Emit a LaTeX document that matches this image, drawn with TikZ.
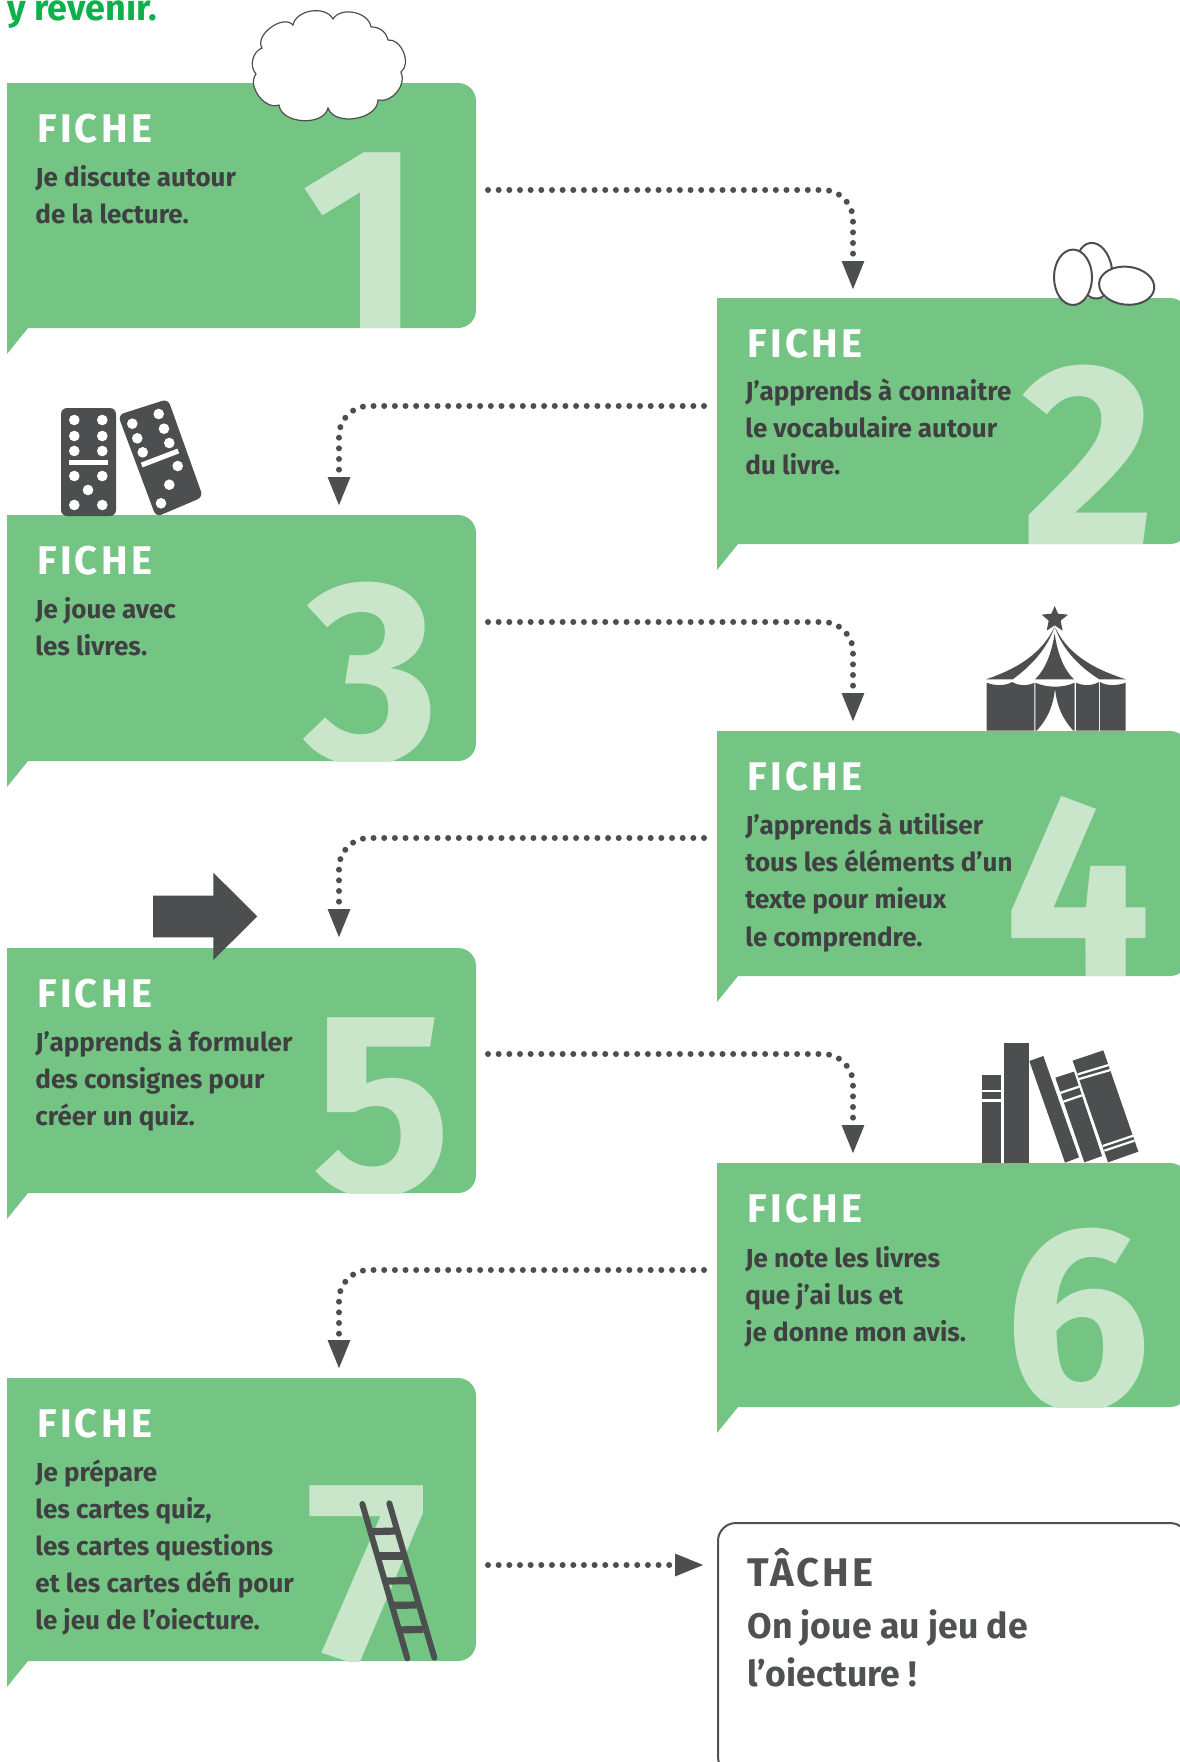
\documentclass[tikz,border=0pt]{standalone}
\usepackage{fontspec}
\setmainfont{Fira Sans}
\usetikzlibrary{arrows.meta}
\definecolor{boxgreen}{HTML}{74C583}
\definecolor{digitgreen}{HTML}{C9E6CB}
\definecolor{icondark}{HTML}{4D4E50}
\definecolor{textdark}{HTML}{404042}
\definecolor{taskdark}{HTML}{505153}
\definecolor{headgreen}{HTML}{0DB14B}
\newcommand\rowsoftext[1]{\vtop{\baselineskip=18.6pt\halign{##\hfil\cr #1\crcr}}}
\tikzset{
  ficheword/.style={anchor=base west,inner sep=0pt,text=white,font=\fontsize{20}{20}\selectfont\bfseries\addfontfeature{LetterSpace=8}},
  bodytext/.style={anchor=base west,inner sep=0pt,text=textdark,font=\fontsize{13}{18.6}\selectfont\bfseries},
  bigdigit/.style={anchor=base,inner sep=0pt,text=digitgreen,font=\fontsize{130}{130}\selectfont\bfseries},
  conn/.style={draw=icondark,line width=3pt,line cap=round,dash pattern=on 0pt off 5.33pt,rounded corners=15pt,
     -{Triangle[length=14.5pt,width=10.5pt,fill=icondark]}},
  icon/.style={fill=icondark,draw=none},
  eggshape/.style={draw=icondark,fill=white,line width=1pt},
  pip/.style={fill=white,draw=none},
  zoomed/.style={x=0.16667pt,y=-0.16667pt}
}
% name, left, right, top, bottom
\newcommand\ficheshape[5]{%
  \fill[boxgreen] (#2,#4) -- ({#3-18},#4) .. controls ({#3-8},#4) and (#3,{#4+8}) .. (#3,{#4+18})
    -- (#3,{#5-18}) .. controls (#3,{#5-8}) and ({#3-8},#5) .. ({#3-18},#5)
    -- ({#2+21},#5) -- (#2,{#5+26}) -- cycle;
  \node[ficheword] (#1w) at ({#2+30},{#4+59.5}) {FICHE};
}
\newcommand\bigdig[5]{%
  \begin{scope}
    \clip (0,#4) rectangle (1179,#5);
    \node[bigdigit] (#1) at (#3,#5) {#2};
  \end{scope}
}
\begin{document}
\begin{tikzpicture}[x=0.5pt,y=-0.5pt]
\useasboundingbox (0,0) rectangle (1179,1762);
\node[anchor=base west,inner sep=0pt,text=headgreen,font=\fontsize{18}{20}\selectfont\bfseries] (head) at (7,20) {y revenir.};

% boxes
\ficheshape{f1}{7}{476}{83}{328}
\bigdig{d1}{1}{362}{83}{328}
\node[bodytext] (t1) at (35,186) {\rowsoftext{Je discute autour\cr de la lecture.}};

\ficheshape{f2}{717}{1188}{298}{544}
\bigdig{d2}{2}{1089}{298}{544}
\node[bodytext] (t2) at (745,400) {\rowsoftext{J’apprends à connaitre\cr le vocabulaire autour\cr du livre.}};

\ficheshape{f3}{7}{476}{515}{761}
\bigdig{d3}{3}{372}{515}{761}
\node[bodytext] (t3) at (35,618) {\rowsoftext{Je joue avec\cr les livres.}};

\ficheshape{f4}{717}{1188}{731}{976}
\bigdig{d4}{4}{1078}{731}{976}
\node[bodytext] (t4) at (745,834.5) {\rowsoftext{J’apprends à utiliser\cr tous les éléments d’un\cr texte pour mieux\cr le comprendre.}};

\ficheshape{f5}{7}{476}{948}{1193}
\bigdig{d5}{5}{382}{948}{1193}
\node[bodytext] (t5) at (35,1051) {\rowsoftext{J’apprends à formuler\cr des consignes pour\cr créer un quiz.}};

\ficheshape{f6}{717}{1188}{1163}{1407}
\bigdig{d6}{6}{1078}{1163}{1407}
\node[bodytext] (t6) at (745,1267) {\rowsoftext{Je note les livres\cr que j’ai lus et\cr je donne mon avis.}};

\ficheshape{f7}{7}{476}{1378}{1661}
\bigdig{d7}{7}{367}{1378}{1661}
\node[bodytext] (t7) at (35,1481) {\rowsoftext{Je prépare\cr les cartes quiz,\cr les cartes questions\cr et les cartes défi pour\cr le jeu de l’oiecture.}};

% task box
\draw[taskdark,fill=white,line width=1pt] (718,1757) -- (718,1541) .. controls (718,1531) and (726,1523) .. (736,1523) -- (1170,1523) .. controls (1180,1523) and (1188,1531) .. (1188,1541) -- (1188,1757) .. controls (1188,1767) and (1180,1775) .. (1170,1775) -- (736,1775) .. controls (726,1775) and (718,1767) .. (718,1757) -- cycle;
\node[ficheword,text=taskdark] (tacheword) at (747,1586) {TÂCHE};
\node[anchor=base west,inner sep=0pt,text=taskdark,font=\fontsize{17.8}{24}\selectfont\bfseries] (tachetext) at (747,1638)
  {\vtop{\baselineskip=24.3pt\halign{#\hfil\cr On joue au jeu de\cr l’oiecture !\crcr}}};

% connectors
\coordinate (a1s) at (488,190); \coordinate (a1c) at (853,190); \coordinate (a1e) at (853,290);
\coordinate (a2s) at (704,406); \coordinate (a2c) at (339,406); \coordinate (a2e) at (339,506);
\coordinate (a3s) at (488,622); \coordinate (a3c) at (853,622); \coordinate (a3e) at (853,722);
\coordinate (a4s) at (704,838); \coordinate (a4c) at (339,838); \coordinate (a4e) at (339,938);
\coordinate (a5s) at (488,1054); \coordinate (a5c) at (853,1054); \coordinate (a5e) at (853,1154);
\coordinate (a6s) at (704,1270); \coordinate (a6c) at (339,1270); \coordinate (a6e) at (339,1369);
\coordinate (a7s) at (488,1565); \coordinate (a7e) at (704,1565);
\draw[conn] (a1s) -- (a1c) -- (a1e);
\draw[conn] (a2s) -- (a2c) -- (a2e);
\draw[conn] (a3s) -- (a3c) -- (a3e);
\draw[conn] (a4s) -- (a4c) -- (a4e);
\draw[conn] (a5s) -- (a5c) -- (a5e);
\draw[conn] (a6s) -- (a6c) -- (a6e);
\draw[conn] (a7s) -- (a7e);

% cloud
\draw[draw=icondark,fill=white,line width=0.6pt] (293,25) to[bend left=70] (333,19) to[bend left=70] (371,27) to[bend left=40] (388,40)
  to[bend left=75] (401,72) to[bend left=65] (378,100) to[bend left=80] (328,108) to[bend left=80] (279,105)
  to[bend left=75] (256,74) to[bend left=55] (262,48) to[bend left=85] (293,25) -- cycle;

% eggs
\draw[eggshape] (1094,270.7) ellipse[x radius=18,y radius=28,rotate=8];
\draw[eggshape] (1073,277.3) ellipse[x radius=19,y radius=27.7];
\draw[eggshape] (1126.7,285.7) ellipse[x radius=27.7,y radius=19,rotate=-6];

% dominoes
\fill[icondark,rounded corners=3pt] (61,408) rectangle (116,516);
\foreach \px/\py in {74.3/420,102.3/420,74.3/436,102.3/436,74.3/451,102.3/451,74.3/476,102.3/476,88/490,74.3/505,102.3/505}
  \fill[pip] (\px,\py) circle[radius=5.3];
\fill[white] (69,460) rectangle (108,465);
\fill[icondark,rounded corners=3pt] (118,415) -- (168,399) -- (203,497) -- (156,517) -- cycle;
\foreach \px/\py in {132.3/423.7,137.3/438.3,142.7/452.3,158.7/414,164/428.7,169.3/443,177.7/466,169.3/484.7,161/503.3}
  \fill[pip] (\px,\py) circle[radius=5.3];
\draw[white,line width=2.5pt] (141.7,465) -- (178.3,451);

% tent
\begin{scope}[shift={(940,580)},zoomed]
  \fill[icondark] (344,78) -- (354,101) -- (384,104) -- (362,122) -- (368,152) -- (344,136) -- (320,152) -- (326,122) -- (305,104) -- (334,101) -- cycle;
  \fill[icondark] (344,140) .. controls (310,210) and (250,260) .. (138,298) -- (218,298) .. controls (270,260) and (320,210) .. (344,140) -- cycle;
  \fill[icondark] (344,160) .. controls (335,220) and (315,270) .. (285,298) -- (402,298) .. controls (372,270) and (352,220) .. (344,160) -- cycle;
  \fill[icondark] (344,140) .. controls (378,210) and (438,260) .. (558,298) -- (478,298) .. controls (418,260) and (368,210) .. (344,140) -- cycle;
  \fill[icondark] (140,308) .. controls (165,318) and (195,318) .. (217,306) .. controls (235,318) and (265,318) .. (283,308) -- (283,452) -- (140,452) -- cycle;
  \fill[icondark] (286,308) .. controls (320,324) and (370,324) .. (404,308) -- (404,452) -- (400,452) .. controls (370,420) and (350,380) .. (345,325) .. controls (340,380) and (320,420) .. (290,452) -- (286,452) -- cycle;
  \fill[icondark] (408,308) .. controls (430,318) and (455,318) .. (477,306) -- (477,452) -- (408,452) -- cycle;
  \fill[icondark] (480,306) .. controls (500,318) and (530,318) .. (557,308) -- (557,452) -- (480,452) -- cycle;
\end{scope}

% arrow icon
\begin{scope}[shift={(0,850)},zoomed]
  \fill[icon] (459,137) -- (640,137) -- (640,68) -- (772,199) -- (640,330) -- (640,262) -- (459,262) -- cycle;
\end{scope}

% books
\begin{scope}[shift={(950,1020)},zoomed]
  \fill[icon] (96,165) rectangle (153,428);
  \fill[white] (96,210) rectangle (153,216);
  \fill[white] (96,238) rectangle (153,245);
  \fill[icon] (162,70) rectangle (238,428);
  \fill[icon] (238,123) -- (280,108) -- (387,412) -- (345,428) -- cycle;
  \fill[icon] (316,173) -- (372,155) -- (456,408) -- (403,427) -- cycle;
  \draw[white,line width=1.1pt] (330,219) -- (387,200);
  \draw[white,line width=1.1pt] (340,245) -- (396,226);
  \fill[icon] (368,122) -- (460,91) -- (565,395) -- (474,427) -- cycle;
  \draw[white,line width=1.1pt] (383,163) -- (476,135);
  \draw[white,line width=1.1pt] (387,177) -- (481,150);
  \draw[white,line width=1.1pt] (458,378) -- (550,347);
  \draw[white,line width=1.1pt] (463,392) -- (553,362);
\end{scope}

% ladder
\begin{scope}[shift={(280,1450)},zoomed]
  \draw[icondark,line width=3pt,line cap=round] (247,162) -- (382,625);
  \draw[icondark,line width=3pt,line cap=round] (328,160) -- (463,623);
  \foreach \ya/\xa/\xb/\yb in {245/275/345/243,318/295/368/318,393/315/392/392,466/335/410/465,540/355/430/538}
    \draw[icondark,line width=3.6pt] (\xa,\ya) -- (\xb,\yb);
\end{scope}
\end{tikzpicture}
\end{document}
